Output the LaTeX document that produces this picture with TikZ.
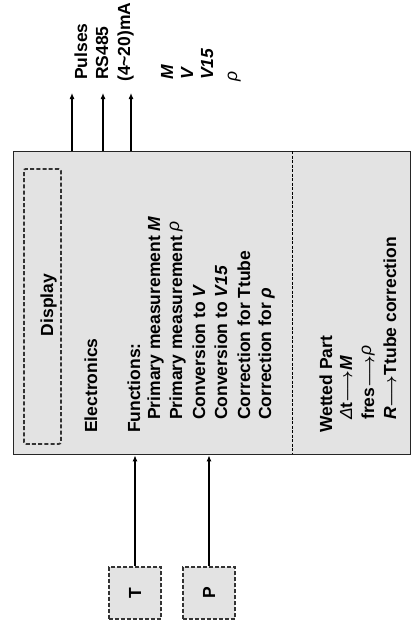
\documentclass[tikz,border=0pt]{standalone}
\usepackage{fontspec}
\setmainfont{Liberation Sans}
\usetikzlibrary{arrows.meta}
\newcommand\thinrho{\raisebox{3pt}{\mdseries\itshape ρ}}
\newcommand\larr{{\boldmath$\longrightarrow$}}
\begin{document}
\begin{tikzpicture}[x=1pt,y=-1pt,
  lbl/.style={rotate=90,anchor=base west,inner sep=0pt,font=\fontsize{17.5}{21}\selectfont\bfseries},
  clbl/.style={rotate=90,anchor=base,inner sep=0pt,font=\fontsize{17.5}{21}\selectfont\bfseries},
  mainbox/.style={draw=black!85,line width=1.4pt,fill=gray!22,inner sep=0pt},
  dispbox/.style={draw=black!80,line width=1.8pt,dash pattern=on 4pt off 2.2pt,rounded corners=2pt,inner sep=0pt},
  sensbox/.style={draw=black!80,fill=gray!22,line width=1.4pt,dash pattern=on 4pt off 2pt,minimum size=52pt,inner sep=0pt,font=\fontsize{17.5}{21}\selectfont\bfseries},
  divider/.style={draw=black,line width=0.9pt,dash pattern=on 3pt off 1.5pt},
  arr/.style={-{Latex[length=6pt,width=5pt]},line width=1.1pt}
]
\useasboundingbox (0,0) rectangle (413,625);
% main box
\node[mainbox,minimum width=397pt,minimum height=303pt,anchor=north west] (main) at (13,151) {};
% display
\node[dispbox,minimum width=37pt,minimum height=275pt,anchor=north west] (disp) at (23,168) {};
\node[clbl] (displbl) at (53,305) {Display};
% divider
\coordinate (dtop) at (292,151);
\coordinate (dbot) at (292,454);
\draw[divider] (dtop) -- (dbot);
% electronics texts
\node[lbl] (el) at (97,433) {Electronics};
\node[lbl] (fn) at (140,433) {Functions:};
\node[lbl] (f1) at (160,420) {Primary measurement \textit{M}};
\node[lbl] (f2) at (182,420) {Primary measurement \thinrho};
\node[lbl] (f3) at (205,420) {Conversion to \textit{V}};
\node[lbl] (f4) at (227,420) {Conversion to \textit{V15}};
\node[lbl] (f5) at (250,420) {Correction for Ttube};
\node[lbl] (f6) at (271,420) {Correction for \textit{ρ}};
% wetted part texts
\node[lbl] (wp) at (332,433) {Wetted Part};
\node[lbl] (w1) at (352,420) {{\mdseries\itshape Δ}t\larr\textit{M}};
\node[lbl] (w2) at (374,420) {fres\larr\thinrho};
\node[lbl] (w3) at (396,420) {\textit{R}\larr Ttube correction};
% outputs
\coordinate (o1) at (72,93);
\coordinate (o2) at (103,93);
\coordinate (o3) at (131,93);
\draw[arr] (main.north -| o1) -- (o1);
\draw[arr] (main.north -| o2) -- (o2);
\draw[arr] (main.north -| o3) -- (o3);
\node[lbl] (pul) at (87,80) {Pulses};
\node[lbl] (rs) at (108,80) {RS485};
\node[lbl] (ma) at (130,82) {(4\textasciitilde20)mA};
\node[lbl] (qm) at (173,80) {\textit{M}};
\node[lbl] (qv) at (193,80) {\textit{V}};
\node[lbl] (qv15) at (213,80) {\textit{V15}};
\node[lbl] (qr) at (237,82) {\mdseries\itshape ρ};
% sensors
\node[sensbox] (T) at (135,593) {\rotatebox{90}{T}};
\node[sensbox] (P) at (209,593) {\rotatebox{90}{P}};
\draw[arr] (T.north) -- (T.north |- main.south);
\draw[arr] (P.north) -- (P.north |- main.south);
\end{tikzpicture}
\end{document}
